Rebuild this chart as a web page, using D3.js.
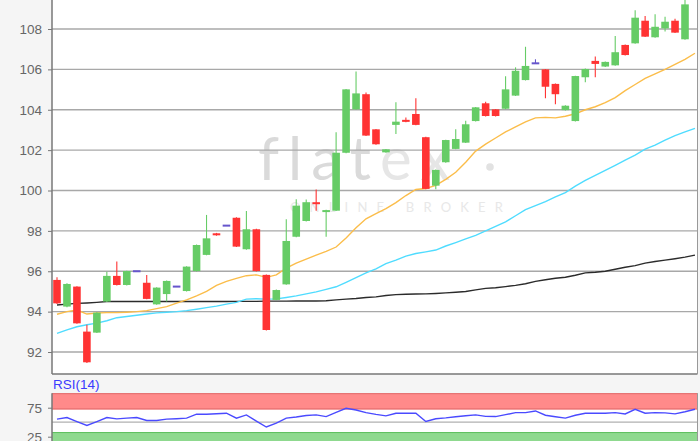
<!DOCTYPE html>
<html><head><meta charset="utf-8">
<script src="https://cdn.jsdelivr.net/npm/d3@7"></script>
<style>body{margin:0;background:#f5f5f5;}svg{display:block;}</style>
</head><body>
<script>
// ---- data ----
const opens  = [95.57,94.25,95.24,93.01,92.96,94.50,95.77,95.32,96.00,95.43,94.36,94.87,95.24,95.02,96.01,96.81,97.88,98.26,98.65,97.09,98.08,95.82,94.58,95.35,97.71,98.49,99.42,98.97,99.00,101.87,104.02,104.77,103.03,101.89,103.25,103.50,103.79,102.64,100.24,101.40,102.06,102.37,103.44,104.32,104.02,104.05,104.70,105.47,106.30,106.00,105.28,103.98,103.44,105.61,106.42,106.14,106.20,107.21,107.29,108.41,107.59,108.03,108.41,107.49];
const highs  = [95.70,95.40,95.26,93.35,93.97,95.98,96.48,96.03,96.00,95.82,95.21,95.54,95.24,96.25,97.32,98.79,97.90,98.26,98.67,98.99,98.10,95.84,95.09,98.57,99.57,99.55,100.05,99.05,102.88,105.03,105.89,104.85,103.05,102.06,104.37,103.62,104.57,102.66,101.04,102.52,103.03,103.46,104.14,104.40,104.04,105.66,106.10,107.12,106.50,106.02,105.30,104.22,105.69,106.04,106.64,106.39,107.65,107.23,108.93,108.64,108.73,108.61,108.51,109.60];
const lows   = [94.38,94.22,93.40,91.45,92.94,94.48,95.30,95.30,96.00,94.61,94.34,94.50,95.24,95.00,95.99,96.79,97.76,98.26,97.20,97.07,95.99,93.07,94.56,95.33,97.69,98.47,99.00,97.71,98.98,101.85,104.00,102.70,102.27,101.87,102.80,103.38,103.23,100.06,100.06,101.38,102.04,102.35,103.42,103.67,103.67,104.03,104.68,105.45,106.30,104.57,104.27,103.96,103.42,105.36,105.61,106.12,106.18,106.69,107.27,107.60,107.57,107.87,107.80,107.47];
const closes = [94.41,95.37,93.42,91.49,93.95,95.77,95.32,96.01,96.00,94.63,95.19,95.52,95.24,96.23,97.30,97.63,97.78,98.26,97.22,98.08,96.01,93.09,95.07,97.50,99.25,99.42,99.35,99.03,101.87,105.01,104.81,102.72,102.29,102.04,103.41,103.40,103.25,100.08,101.02,102.50,102.55,103.28,104.12,103.69,103.69,105.01,105.93,106.17,106.30,105.14,104.77,104.20,105.67,106.02,106.27,106.37,106.85,106.71,108.56,107.62,108.11,108.36,107.82,109.22];

const maShort = [93.87,94.00,94.08,93.88,93.93,93.95,93.95,93.97,94.00,94.05,94.15,94.25,94.42,94.58,94.78,95.00,95.30,95.50,95.65,95.78,95.82,95.70,95.82,96.15,96.40,96.60,96.80,96.98,97.20,97.65,98.15,98.60,98.85,99.10,99.40,99.75,100.05,100.10,100.25,100.55,100.90,101.40,101.95,102.30,102.60,102.90,103.15,103.40,103.60,103.62,103.60,103.68,103.80,104.00,104.15,104.35,104.60,104.95,105.25,105.55,105.78,106.00,106.25,106.50,106.80];
const maMid   = [92.92,93.10,93.25,93.35,93.43,93.55,93.70,93.76,93.82,93.88,93.94,93.97,94.00,94.05,94.12,94.20,94.27,94.37,94.46,94.62,94.64,94.62,94.63,94.70,94.78,94.88,94.98,95.10,95.23,95.45,95.68,95.92,96.12,96.38,96.55,96.75,96.88,96.96,97.05,97.25,97.42,97.60,97.78,98.00,98.22,98.45,98.75,99.05,99.25,99.45,99.68,99.90,100.22,100.50,100.75,101.00,101.25,101.50,101.75,102.05,102.25,102.50,102.72,102.90,103.08];
const maLong  = [94.33,94.37,94.41,94.43,94.46,94.50,94.50,94.50,94.50,94.50,94.50,94.50,94.50,94.50,94.50,94.50,94.50,94.50,94.51,94.51,94.51,94.52,94.52,94.52,94.53,94.53,94.53,94.54,94.58,94.62,94.65,94.70,94.73,94.80,94.84,94.86,94.87,94.88,94.90,94.93,94.96,95.00,95.08,95.15,95.18,95.24,95.30,95.38,95.50,95.58,95.65,95.70,95.80,95.92,95.95,96.00,96.10,96.20,96.28,96.40,96.48,96.55,96.62,96.70,96.80];
const rsi     = [55.3,58,51,44.4,51,58,55.8,57,58,52.9,52.9,55.3,56,57,63.8,63.8,64.5,65.5,57,62.6,52,41.7,48.5,57,59,61.5,62.6,59.7,67,74,71,66.5,63.5,60.9,65.5,65.5,65.5,51.2,56,57.5,59.5,61,62.6,60,59.7,63,66.5,66.5,69.4,62,59.5,57,62,65.5,65.5,65.5,66.5,64.3,72.3,65.5,66.5,66,64.3,68,72.3];

const priceTicks = [92,94,96,98,100,102,104,106,108];
const rsiTicks = [25,75];
const rsiBands = [{from:72,to:100,fill:"#ff8a8a",line:"#e06a6a"},{from:0,to:33,fill:"#8fd98f",line:"#5fbf5f"}];
const rsiLabel = "RSI(14)";

// ---- layout ----
const W = 700, H = 441;
const L = 52, R = 697.5;
const svg = d3.select("body").append("svg").attr("width", W).attr("height", H);
svg.append("rect").attr("width", W).attr("height", H).attr("fill", "#f5f5f5");

const x = d3.scaleLinear().domain([0, 63]).range([57, 685]);
const y = d3.scaleLinear().domain([92, 108]).range([352, 29]);
const mainTop = -5, mainBottom = 374;

svg.append("rect").attr("x", L).attr("y", mainTop).attr("width", R - L).attr("height", mainBottom - mainTop)
  .attr("fill", "#fff");

// watermark
const wm = svg.append("g").attr("font-family", "Lato, 'Open Sans', sans-serif");
const wt = wm.append("text").attr("x", 258).attr("y", 180).attr("font-size", 60).attr("letter-spacing", 9)
  .attr("font-weight", 400);
wt.append("tspan").attr("fill", "#dadada").text("flat");
wt.append("tspan").attr("fill", "#e6e6e6").text("ex");
wm.append("circle").attr("cx", 490).attr("cy", 167).attr("r", 3.8).attr("fill", "#e2e2e2");
wm.append("text").attr("x", 290).attr("y", 212).attr("font-size", 13).attr("letter-spacing", 9.2)
  .attr("fill", "#e8e8e8").text("ONLINE BROKER");

// grid
const grid = svg.append("g");
grid.selectAll("line").data(priceTicks).join("line")
  .attr("x1", L).attr("x2", R).attr("y1", d => y(d)).attr("y2", d => y(d))
  .attr("stroke", "#a8a8a8").attr("stroke-width", 1.3);

// y axis
const yAxis = d3.axisLeft(y).tickValues(priceTicks).tickSize(4).tickPadding(6);
const ya = svg.append("g").attr("transform", `translate(${L},0)`).call(yAxis);
ya.select(".domain").remove();
ya.selectAll(".tick line").attr("stroke", "#777");
ya.selectAll(".tick text").attr("fill", "#666").attr("font-size", 13.5).attr("font-family", "'Liberation Sans', Arial, sans-serif");

// moving averages
const line = d3.line().x((d, i) => x(i)).y(d => y(d));
[[maLong, "#2b2b2b"], [maMid, "#4fdcff"], [maShort, "#fbbd4a"]].forEach(([arr, c]) => {
  svg.append("path").datum(arr).attr("d", line).attr("fill", "none").attr("stroke", c).attr("stroke-width", 1.4);
});

// candles
const candles = opens.map((o, i) => ({i, o, h: highs[i], l: lows[i], c: closes[i]}));
const colorOf = d => d.c > d.o ? "#66cc66" : (d.c < d.o ? "#ff3333" : "#6655cc");
const cw = 7.6;
const cg = svg.append("g").selectAll("g").data(candles).join("g");
cg.append("line").attr("x1", d => x(d.i)).attr("x2", d => x(d.i))
  .attr("y1", d => y(d.h)).attr("y2", d => y(d.l)).attr("stroke", colorOf).attr("stroke-width", 1.1);
cg.append("rect").attr("x", d => x(d.i) - cw / 2).attr("width", cw)
  .attr("y", d => Math.min(y(d.o), y(d.c)) - (d.o === d.c ? 1 : 0))
  .attr("height", d => Math.max(2, Math.abs(y(d.o) - y(d.c))))
  .attr("fill", colorOf);

// main border
svg.append("line").attr("x1", L).attr("x2", L).attr("y1", mainTop).attr("y2", mainBottom).attr("stroke", "#777").attr("stroke-width", 1.5);
svg.append("line").attr("x1", L).attr("x2", R).attr("y1", mainBottom).attr("y2", mainBottom).attr("stroke", "#777").attr("stroke-width", 1.5);
svg.append("line").attr("x1", R).attr("x2", R).attr("y1", mainTop).attr("y2", mainBottom).attr("stroke", "#999").attr("stroke-width", 1);

// RSI panel
const ry = d3.scaleLinear().domain([25, 75]).range([436.7, 407.7]);
const rTop = ry(100), rBottom = H + 5;
svg.append("rect").attr("x", L).attr("y", rTop).attr("width", R - L).attr("height", rBottom - rTop).attr("fill", "#fff");
rsiBands.forEach(b => {
  const y1 = ry(b.to), y2 = Math.min(ry(b.from), rBottom);
  svg.append("rect").attr("x", L).attr("y", y1).attr("width", R - L).attr("height", y2 - y1).attr("fill", b.fill);
  svg.append("line").attr("x1", L).attr("x2", R).attr("y1", y1 + 0.5).attr("y2", y1 + 0.5).attr("stroke", b.line).attr("stroke-width", 1);
  if (b.from > 0) svg.append("line").attr("x1", L).attr("x2", R).attr("y1", y2 - 0.5).attr("y2", y2 - 0.5).attr("stroke", b.line).attr("stroke-width", 1);
});
svg.append("line").attr("x1", L).attr("x2", R).attr("y1", ry(50)).attr("y2", ry(50)).attr("stroke", "#b0b0b0").attr("stroke-width", 1.3);
const rAxis = d3.axisLeft(ry).tickValues(rsiTicks).tickSize(4).tickPadding(6);
const ra = svg.append("g").attr("transform", `translate(${L},0)`).call(rAxis);
ra.select(".domain").remove();
ra.selectAll(".tick line").attr("stroke", "#777");
ra.selectAll(".tick text").attr("fill", "#666").attr("font-size", 13.5).attr("font-family", "'Liberation Sans', Arial, sans-serif");
const rline = d3.line().x((d, i) => x(i)).y(d => ry(d));
svg.append("path").datum(rsi).attr("d", rline).attr("fill", "none").attr("stroke", "#4a4aff").attr("stroke-width", 1.4);
svg.append("line").attr("x1", L).attr("x2", L).attr("y1", rTop).attr("y2", rBottom).attr("stroke", "#777").attr("stroke-width", 1.5);
svg.append("line").attr("x1", R).attr("x2", R).attr("y1", rTop).attr("y2", rBottom).attr("stroke", "#999").attr("stroke-width", 1);
svg.append("text").attr("x", 53).attr("y", 389).attr("font-size", 13.5).attr("fill", "#3b3bff")
  .attr("font-family", "'Liberation Sans', Arial, sans-serif").text(rsiLabel);
</script>
</body></html>
